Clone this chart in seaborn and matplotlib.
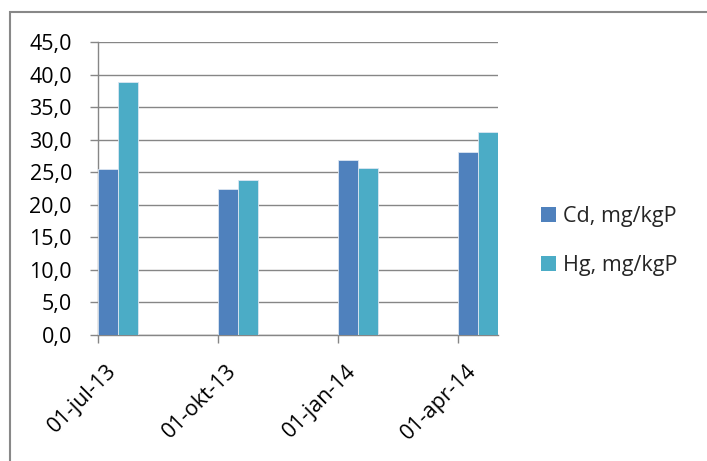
import matplotlib
matplotlib.use("Agg")
import matplotlib.pyplot as plt
from matplotlib.patches import Rectangle
from matplotlib.transforms import ScaledTranslation
import pandas as pd
import seaborn as sns

# Sampling dates and measured concentrations
dates = ["01-jul-13", "01-okt-13", "01-jan-14", "01-apr-14"]
cd_values = [25.5, 22.4, 26.9, 28.1]
hg_values = [38.9, 23.9, 25.6, 31.2]
series_names = ["Cd, mg/kgP", "Hg, mg/kgP"]
y_ticks = [0, 5, 10, 15, 20, 25, 30, 35, 40, 45]

colors = {"Cd, mg/kgP": "#4F81BD", "Hg, mg/kgP": "#4BACC6"}
grid_color = "#868686"
font_size = 15.5

df = pd.DataFrame({
    "date": dates * 2,
    "series": [series_names[0]] * len(dates) + [series_names[1]] * len(dates),
    "value": cd_values + hg_values,
})

sns.set_theme(style="white")
plt.rcParams["font.family"] = ["Open Sans", "DejaVu Sans"]

fig = plt.figure(figsize=(7.07, 4.61), dpi=100)
ax = fig.add_axes([98 / 707, 126 / 461, 400 / 707, 292.7 / 461])

group_w = 1 / 3
sns.barplot(data=df, x="date", y="value", hue="series", palette=colors,
            order=dates, hue_order=series_names, width=group_w, gap=0,
            saturation=1, edgecolor="#dce6f2", linewidth=0.6, ax=ax,
            legend=False, zorder=3)

ax.set_ylim(0, 45)
ax.set_yticks(y_ticks)
ax.set_yticklabels([f"{v:.1f}".replace(".", ",") for v in y_ticks])
ax.set_xlim(-group_w / 2, len(dates) - 1 + group_w / 2)
ax.set_xticks([i - group_w / 2 for i in range(len(dates))])
ax.set_xticklabels(dates)

ax.set_xlabel("")
ax.set_ylabel("")
ax.yaxis.grid(True, color=grid_color, linewidth=1.0, zorder=0)
ax.set_axisbelow(True)
for side in ["top", "right"]:
    ax.spines[side].set_visible(False)
for side in ["left", "bottom"]:
    ax.spines[side].set_color(grid_color)
    ax.spines[side].set_linewidth(1.0)

ax.tick_params(axis="y", direction="out", length=5.8, width=1.0,
               color=grid_color, pad=13, labelsize=font_size,
               labelcolor="black", left=True)
ax.tick_params(axis="x", direction="out", length=5.8, width=1.0,
               color=grid_color, pad=18, labelsize=font_size,
               labelcolor="black", bottom=True)

# rotated date labels, right end anchored a little right of each tick
offset = ScaledTranslation(15 / 100, 0, fig.dpi_scale_trans)
for lbl in ax.get_xticklabels():
    lbl.set_rotation(45)
    lbl.set_ha("right")
    lbl.set_va("center")
    lbl.set_rotation_mode("anchor")
    lbl.set_transform(lbl.get_transform() + offset)

handles = [Rectangle((0, 0), 1, 1, facecolor=colors[n], edgecolor="none")
           for n in series_names]
fig.legend(handles, series_names, loc="center left",
           bbox_to_anchor=(541 / 707, 220 / 461), frameon=False,
           fontsize=font_size, handlelength=0.7, handleheight=0.7,
           handletextpad=0.33, labelspacing=1.3, borderpad=0,
           borderaxespad=0)

# chart area frame
fig.add_artist(Rectangle((9.5 / 707, -0.1), 1.2, (461 - 12.5) / 461 + 0.1,
                         transform=fig.transFigure, fill=False,
                         edgecolor="#888888", linewidth=1.5))

fig.savefig("out.png", dpi=100)
